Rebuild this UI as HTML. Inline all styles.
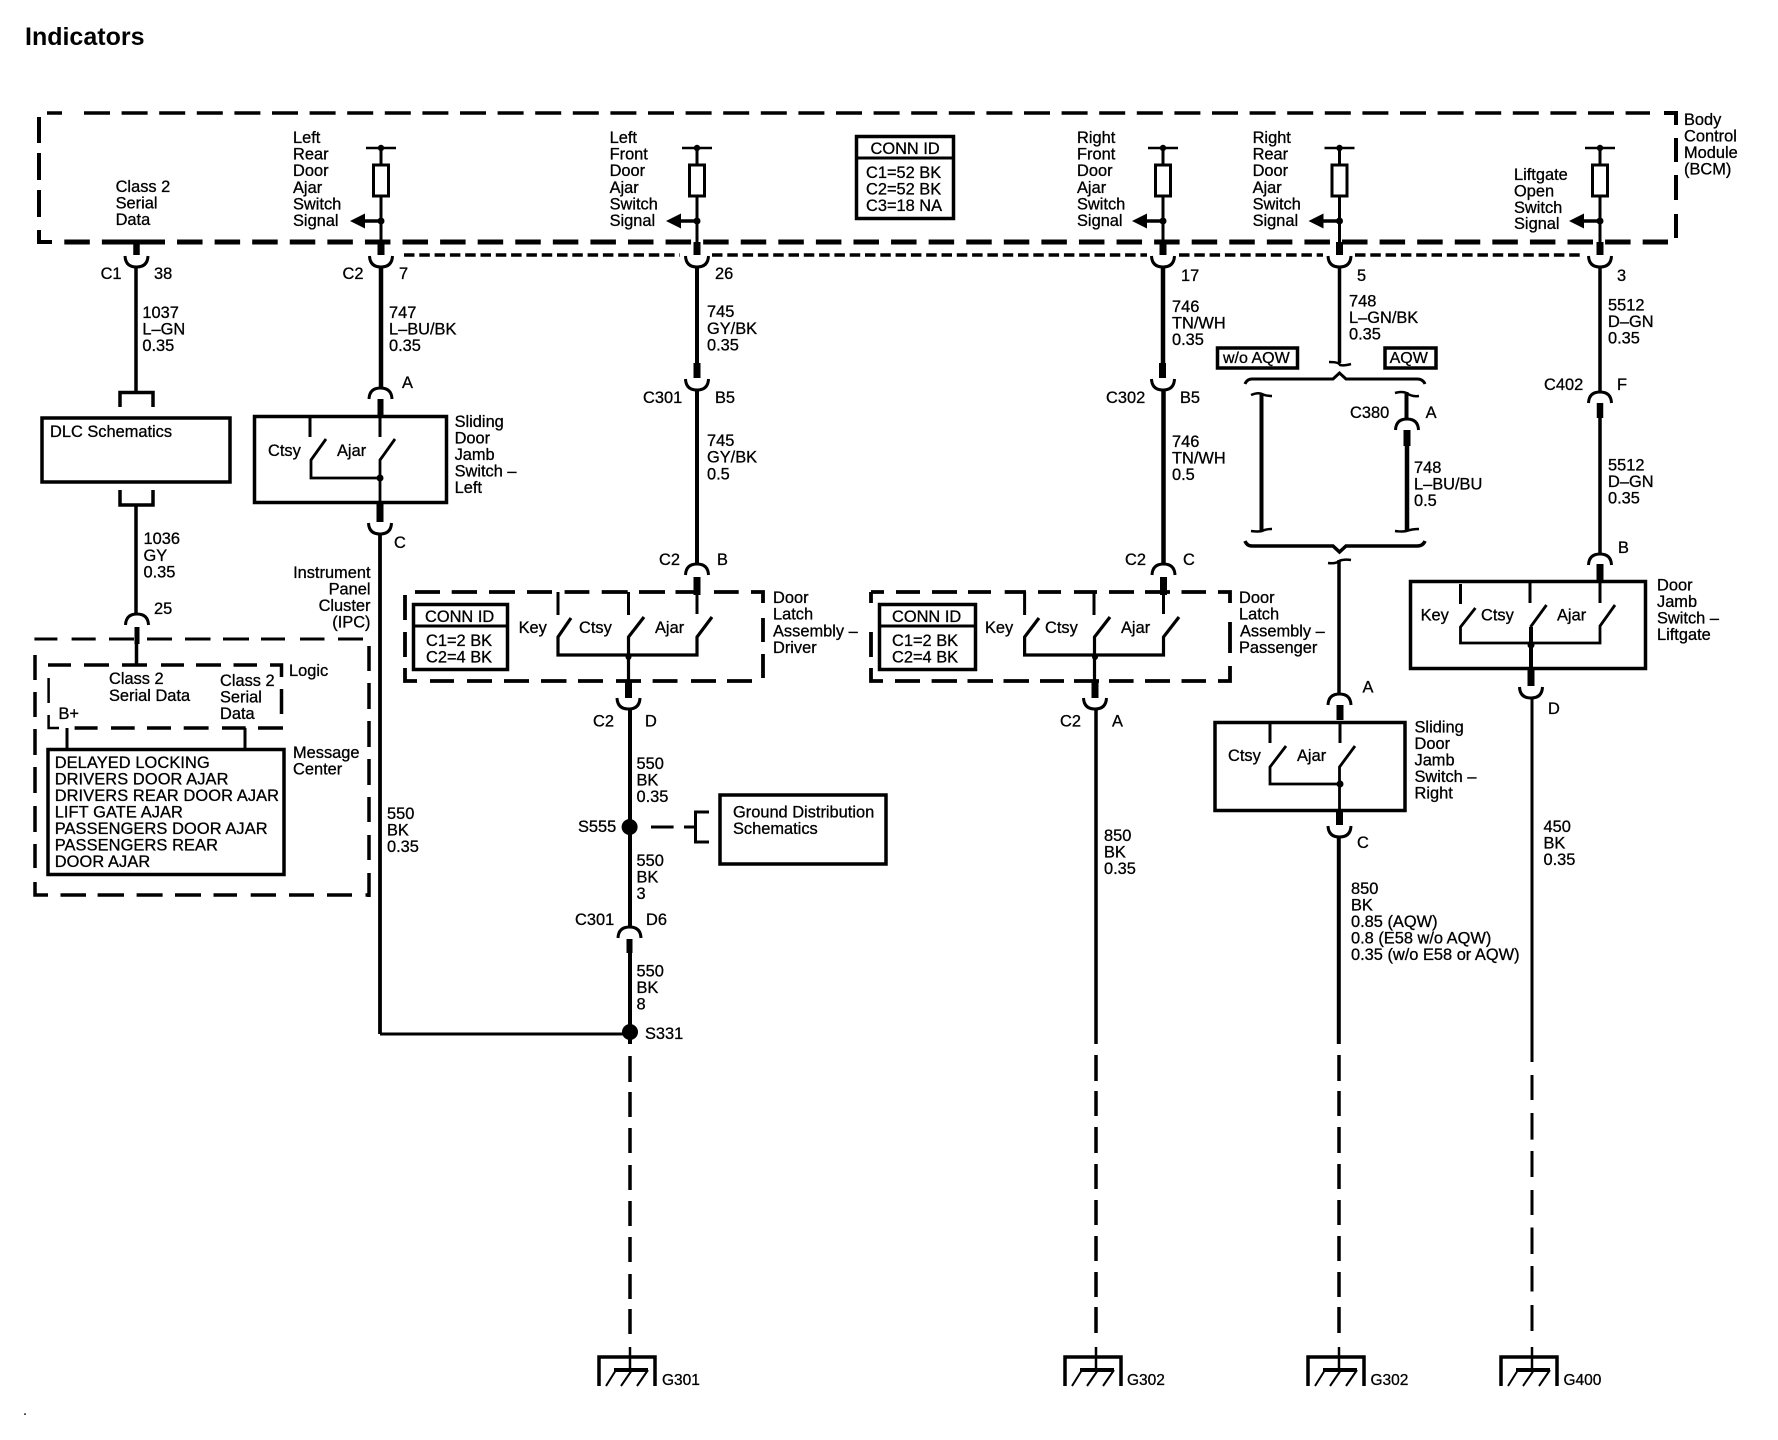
<!DOCTYPE html>
<html>
<head>
<meta charset="utf-8">
<title>Indicators</title>
<style>
html,body{margin:0;padding:0;background:#fff;width:1778px;height:1440px;overflow:hidden}
svg{display:block}
text{font-family:"Liberation Sans",Arial,sans-serif;font-size:16.4px;fill:#000;stroke:#000;stroke-width:.3}
.w,.d{fill:none;stroke:#000}
</style>
</head>
<body>
<svg width="1778" height="1440" viewBox="0 0 1778 1440" xmlns="http://www.w3.org/2000/svg">
<defs>
<path id="u" class="w" stroke-width="3" d="M-11.5 0Q-11 11 0 11Q11 11 11.5 0"/>
<path id="n" class="w" stroke-width="3" d="M-11.5 11Q-11 0 0 0Q11 0 11.5 11"/>
<g id="term">
<path class="w" stroke-width="2.500" d="M-15 0H15"/>
<circle r="3.2" cx="0" cy="0"/>
<path class="w" stroke-width="3" d="M0 0V17M0 48V94"/>
<rect x="-7.5" y="17" width="15" height="31" fill="#fff" stroke="#000" stroke-width="3"/>
<circle cx="0" cy="73" r="3.5"/>
<path class="w" stroke-width="3.5" d="M0 73H-18"/>
<polygon points="-31,73 -16,65.5 -16,80.5"/>
<path class="w" stroke-width="7" d="M0 94V107"/>
<use href="#u" y="108"/>
</g>
<g id="gnd">
<path class="w" stroke-width="3.5" d="M-31 1386V1357H25V1386"/>
<path class="w" stroke-width="2.5" d="M0 1347V1369"/>
<path class="w" stroke-width="4" d="M-16 1370H18"/>
<path class="w" stroke-width="2" d="M-14 1370L-24 1386M2 1370L-9 1386M18 1370L7 1386"/>
</g>
</defs>

<text x="25" y="45" style="font-size:25px;font-weight:bold;stroke-width:0">Indicators</text>

<!-- BCM dashed box -->
<path class="d" stroke-width="3.5" d="M47 113H62"/>
<path class="d" stroke-width="3.5" stroke-dasharray="26 11.6" d="M84 113H1650"/>
<path class="d" stroke-width="4" d="M1664 113H1676V125M1676 138V162M1676 175V200M1676 214V238"/>
<path class="d" stroke-width="4" d="M39 117V143M39 153V180M39 190V217M39 230V242H52"/>
<path class="d" stroke-width="5" stroke-dasharray="25.5 12.08" d="M64.300 242H1668"/>
<path class="d" stroke-width="5" d="M125 242H165"/>
<!-- dotted -->
<path class="d" stroke-width="3.5" stroke-dasharray="10.5 4.800" d="M404 255H680M712 255H1147M1179 255H1323M1355 255H1583"/>

<!-- terminals -->
<use href="#term" x="381" y="148"/>
<use href="#term" x="697" y="148"/>
<use href="#term" x="1163" y="148"/>
<use href="#term" x="1339.500" y="148"/>
<use href="#term" x="1600" y="148"/>

<!-- BCM conn id -->
<rect x="856.500" y="136.500" width="97" height="82" fill="none" stroke="#000" stroke-width="3.5"/>
<path class="w" stroke-width="3" d="M856 158H954"/>
<text x="870.500" y="154">CONN ID</text>
<text x="866" y="178">C1=52 BK</text>
<text x="866" y="194.500">C2=52 BK</text>
<text x="866" y="211">C3=18 NA</text>

<!-- BCM labels -->
<text x="115.600" y="192"><tspan x="115.600">Class 2</tspan><tspan x="115.600" dy="16.500">Serial</tspan><tspan x="115.600" dy="16.500">Data</tspan></text>
<text y="143"><tspan x="293">Left</tspan><tspan x="293" dy="16.600">Rear</tspan><tspan x="293" dy="16.600">Door</tspan><tspan x="293" dy="16.600">Ajar</tspan><tspan x="293" dy="16.600">Switch</tspan><tspan x="293" dy="16.600">Signal</tspan></text>
<text y="143"><tspan x="609.600">Left</tspan><tspan x="609.600" dy="16.600">Front</tspan><tspan x="609.600" dy="16.600">Door</tspan><tspan x="609.600" dy="16.600">Ajar</tspan><tspan x="609.600" dy="16.600">Switch</tspan><tspan x="609.600" dy="16.600">Signal</tspan></text>
<text y="143"><tspan x="1077">Right</tspan><tspan x="1077" dy="16.600">Front</tspan><tspan x="1077" dy="16.600">Door</tspan><tspan x="1077" dy="16.600">Ajar</tspan><tspan x="1077" dy="16.600">Switch</tspan><tspan x="1077" dy="16.600">Signal</tspan></text>
<text y="143"><tspan x="1252.600">Right</tspan><tspan x="1252.600" dy="16.600">Rear</tspan><tspan x="1252.600" dy="16.600">Door</tspan><tspan x="1252.600" dy="16.600">Ajar</tspan><tspan x="1252.600" dy="16.600">Switch</tspan><tspan x="1252.600" dy="16.600">Signal</tspan></text>
<text y="180"><tspan x="1514">Liftgate</tspan><tspan x="1514" dy="16.400">Open</tspan><tspan x="1514" dy="16.400">Switch</tspan><tspan x="1514" dy="16.400">Signal</tspan></text>
<text y="125"><tspan x="1684">Body</tspan><tspan x="1684" dy="16.500">Control</tspan><tspan x="1684" dy="16.500">Module</tspan><tspan x="1684" dy="16.500">(BCM)</tspan></text>

<!-- Wire 1 -->
<path class="w" stroke-width="6.500" d="M136.500 242V255"/>
<use href="#u" x="136.500" y="256"/>
<path class="w" stroke-width="3.500" d="M136 267V391"/>
<path class="w" stroke-width="3.500" d="M120 407V392.500H153V407"/>
<text x="100.600" y="279">C1</text><text x="154" y="279">38</text>
<text y="318"><tspan x="142.400">1037</tspan><tspan x="142.400" dy="16.500">L–GN</tspan><tspan x="142.400" dy="16.500">0.35</tspan></text>
<rect x="42" y="418" width="188" height="64" fill="none" stroke="#000" stroke-width="3.500"/>
<text x="50" y="437">DLC Schematics</text>
<path class="w" stroke-width="3.500" d="M120 490V505H153V490"/>
<path class="w" stroke-width="3.500" d="M136 505V613"/>
<text y="544"><tspan x="143.500">1036</tspan><tspan x="143.500" dy="16.800">GY</tspan><tspan x="143.500" dy="16.800">0.35</tspan></text>
<text x="154" y="614">25</text>
<use href="#n" x="137" y="614"/>
<path class="w" stroke-width="5" d="M137 627V644"/>
<path class="w" stroke-width="3.500" d="M136.500 644V665"/>

<!-- IPC -->
<path class="d" stroke-width="3" d="M34.400 639H57.400M71.600 639H95.700M109 639H134M147 639H172M185 639H210.500M223 639H249M261 639H285M300 639H324.500M338 639H363"/>
<path class="d" stroke-width="3.500" d="M369 646V671M369 683V709M369 721V747M369 759V785M369 797V822M369 835V860M369 873V897"/>
<path class="d" stroke-width="3.500" d="M35 882V895H48M60.500 895H86M97.600 895H124M136.600 895H162.600M175 895H201M213.500 895H237M250.700 895H276M289 895H314M327 895H352M365.500 895H370"/>
<path class="d" stroke-width="3.500" d="M35 655V680M35 692V717M35 729V755M35 767V793M35 806V832M35 844V868"/>
<path class="d" stroke-width="3.500" d="M48 665H71M84 665H109M122 665H147M161 665H184M196 665H221M233.500 665H257M270 665H281.500V677M281.500 689V714"/>
<path class="d" stroke-width="2.500" d="M48.600 678V703M48.600 715V728H59"/>
<path class="d" stroke-width="3.500" d="M74.600 728H97.600M111 728H134.700M147 728H171M183.700 728H208.600M222 728H245.700M258 728H283"/>
<path class="w" stroke-width="3" d="M67 728V748M245 728V748"/>
<rect x="48" y="749.500" width="236" height="125" fill="none" stroke="#000" stroke-width="3.500"/>
<text x="109" y="684">Class 2</text><text x="109" y="701">Serial Data</text>
<text y="686"><tspan x="220">Class 2</tspan><tspan x="220" dy="16.500">Serial</tspan><tspan x="220" dy="16.500">Data</tspan></text>
<text x="289" y="676">Logic</text>
<text x="58.500" y="719">B+</text>
<text y="758"><tspan x="293">Message</tspan><tspan x="293" dy="16.500">Center</tspan></text>
<text y="768" style="letter-spacing:.1px"><tspan x="54.700">DELAYED LOCKING</tspan><tspan x="54.700" dy="16.500">DRIVERS DOOR AJAR</tspan><tspan x="54.700" dy="16.500">DRIVERS REAR DOOR AJAR</tspan><tspan x="54.700" dy="16.500">LIFT GATE AJAR</tspan><tspan x="54.700" dy="16.500">PASSENGERS DOOR AJAR</tspan><tspan x="54.700" dy="16.500">PASSENGERS REAR</tspan><tspan x="54.700" dy="16.500">DOOR AJAR</tspan></text>
<text y="578" text-anchor="end"><tspan x="370.500">Instrument</tspan><tspan x="370.500" dy="16.500">Panel</tspan><tspan x="370.500" dy="16.500">Cluster</tspan><tspan x="370.500" dy="16.500">(IPC)</tspan></text>

<!-- Wire 2 -->
<path class="w" stroke-width="4.500" d="M381 267V388"/>
<text x="342.500" y="279">C2</text><text x="399" y="279">7</text>
<text y="318"><tspan x="389">747</tspan><tspan x="389" dy="16.500">L–BU/BK</tspan><tspan x="389" dy="16.500">0.35</tspan></text>
<text x="402" y="388">A</text>
<use href="#n" x="380.500" y="388"/>
<path class="w" stroke-width="6" d="M380.500 399V416"/>
<rect x="254.500" y="416.500" width="192" height="86" fill="none" stroke="#000" stroke-width="3.500"/>
<path class="w" stroke-width="3" d="M310 416V437M380 416V437"/>
<path class="w" stroke-width="2.800" d="M326 439L311 460V478H380M395 439L380 460V504"/>
<circle cx="380" cy="478" r="3.500"/>
<text x="268" y="456">Ctsy</text><text x="337" y="456">Ajar</text>
<text y="427"><tspan x="454.600">Sliding</tspan><tspan x="454.600" dy="16.500">Door</tspan><tspan x="454.600" dy="16.500">Jamb</tspan><tspan x="454.600" dy="16.500">Switch –</tspan><tspan x="454.600" dy="16.500">Left</tspan></text>
<path class="w" stroke-width="7" d="M380 504V522"/>
<use href="#u" x="380" y="523"/>
<text x="394" y="548">C</text>
<path class="w" stroke-width="3.800" d="M380 534V1034"/>
<path class="w" stroke-width="3" d="M380 1034H630"/>
<text y="819"><tspan x="387">550</tspan><tspan x="387" dy="16.500">BK</tspan><tspan x="387" dy="16.500">0.35</tspan></text>

<!-- Wire 3 -->
<path class="w" stroke-width="4" d="M697 267V364"/>
<text x="715" y="279">26</text>
<text y="317"><tspan x="707">745</tspan><tspan x="707" dy="16.800">GY/BK</tspan><tspan x="707" dy="16.800">0.35</tspan></text>
<path class="w" stroke-width="7" d="M697 363V378"/>
<use href="#u" x="697" y="379"/>
<text x="643" y="403">C301</text><text x="715" y="403">B5</text>
<path class="w" stroke-width="4" d="M697 390V564"/>
<text y="446"><tspan x="707">745</tspan><tspan x="707" dy="16.700">GY/BK</tspan><tspan x="707" dy="16.700">0.5</tspan></text>
<text x="659" y="565">C2</text><text x="717" y="565">B</text>
<use href="#n" x="697" y="564"/>
<path class="w" stroke-width="7" d="M697 577V595"/>

<!-- Door latch driver -->
<path class="d" stroke-width="3.800" d="M415 592H440M451.700 592H477M489 592H515M527 592H552M564.600 592H589.400M601.700 592H627.700M639 592H665M675.500 592H700.400M714 592H738.700M751 592H763V603M763 618V642M763 654V678"/>
<path class="d" stroke-width="3.800" d="M405 595V620M405 632V657M405 668V681H417M430 681H454M467 681H492M504 681H529M541 681H566.500M578 681H603M616 681H641M652.600 681H677.500M691 681H716M727 681H752"/>
<rect x="413.500" y="604.500" width="94" height="65" fill="none" stroke="#000" stroke-width="3.500"/>
<path class="w" stroke-width="3" d="M412 626H509"/>
<text x="425" y="622">CONN ID</text><text x="426" y="646">C1=2 BK</text><text x="426" y="662.500">C2=4 BK</text>
<path class="w" stroke-width="3" d="M558 592V615M628.500 592V615M697 592V614"/>
<path class="w" stroke-width="3.200" d="M571 618L558 637V655H697V637L712 617M644 617L628.500 637V682"/>
<circle cx="628.500" cy="657" r="3"/>
<text x="518.600" y="633">Key</text><text x="579" y="633">Ctsy</text><text x="655" y="633">Ajar</text>
<text y="603"><tspan x="773">Door</tspan><tspan x="773" dy="16.700">Latch</tspan><tspan x="773" dy="16.700">Assembly –</tspan><tspan x="773" dy="16.700">Driver</tspan></text>
<path class="w" stroke-width="7" d="M628.500 682V698"/>
<use href="#u" x="628.500" y="698"/>
<text x="593" y="726.700">C2</text><text x="645" y="726.700">D</text>
<path class="w" stroke-width="4" d="M630 709V927"/>
<text y="769"><tspan x="636.500">550</tspan><tspan x="636.500" dy="16.500">BK</tspan><tspan x="636.500" dy="16.500">0.35</tspan></text>
<circle cx="629.600" cy="827" r="8"/>
<text x="578" y="832">S555</text>
<path class="w" stroke-width="3" d="M651 827H673.600M684 827H695"/>
<path class="w" stroke-width="3" d="M709 812H695.500V842H709"/>
<rect x="720" y="795" width="166" height="69" fill="none" stroke="#000" stroke-width="3.500"/>
<text y="817.700"><tspan x="733">Ground Distribution</tspan><tspan x="733" dy="16.500">Schematics</tspan></text>
<text y="866"><tspan x="636.500">550</tspan><tspan x="636.500" dy="16.500">BK</tspan><tspan x="636.500" dy="16.500">3</tspan></text>
<text x="575" y="925">C301</text><text x="646" y="925">D6</text>
<use href="#n" x="629.500" y="927"/>
<path class="w" stroke-width="6" d="M629.500 939V953"/>
<path class="w" stroke-width="4" d="M630 953V1044"/>
<text y="976.700"><tspan x="636.500">550</tspan><tspan x="636.500" dy="16.500">BK</tspan><tspan x="636.500" dy="16.500">8</tspan></text>
<circle cx="630" cy="1032" r="8"/>
<text x="645" y="1039">S331</text>
<path class="w" stroke-width="3.500" d="M630 1056V1082M630 1092V1117M630 1128V1153M630 1165V1190M630 1201V1226M630 1237V1262M630 1274V1299M630 1309V1334"/>

<!-- Wire 4 -->
<path class="w" stroke-width="4.500" d="M1163 267V364"/>
<text x="1181" y="281">17</text>
<text y="312"><tspan x="1172">746</tspan><tspan x="1172" dy="16.500">TN/WH</tspan><tspan x="1172" dy="16.500">0.35</tspan></text>
<path class="w" stroke-width="7" d="M1162.500 363V378"/>
<use href="#u" x="1163" y="379"/>
<text x="1106" y="403">C302</text><text x="1180" y="403">B5</text>
<path class="w" stroke-width="4.500" d="M1163.500 390V564"/>
<text y="447"><tspan x="1172">746</tspan><tspan x="1172" dy="16.500">TN/WH</tspan><tspan x="1172" dy="16.500">0.5</tspan></text>
<text x="1125" y="565">C2</text><text x="1183" y="565">C</text>
<use href="#n" x="1163.500" y="564"/>
<path class="w" stroke-width="7" d="M1163.500 577V595"/>

<!-- Door latch passenger -->
<path class="d" stroke-width="3.800" d="M871 592H884M896 592H920M932 592H957M968 592H991M1004.700 592H1026M1038 592H1061M1074 592H1097M1109 592H1134M1145 592H1170M1181.500 592H1206M1218 592H1230V603M1230 622V653M1230 666V681H1218M1206 681H1181.500M1170 681H1145M1133.600 681H1109M1099 681H1074M1064 681H1040M1029 681H1003.500M993 681H967.500M957 681H931.600M920 681H895M883 681H871V668M871 657V632M871 603V592"/>
<rect x="879.500" y="604.500" width="96" height="65" fill="none" stroke="#000" stroke-width="3.500"/>
<path class="w" stroke-width="3" d="M878 626H977"/>
<text x="892" y="622">CONN ID</text><text x="892" y="646">C1=2 BK</text><text x="892" y="662.500">C2=4 BK</text>
<path class="w" stroke-width="3" d="M1024.600 592V615M1094 592V615M1163.500 592V614"/>
<path class="w" stroke-width="3.200" d="M1039 618L1024.600 637V655H1163.500V637L1179 617M1110 617L1094.500 637V682"/>
<circle cx="1095" cy="657" r="3"/>
<text x="985" y="633">Key</text><text x="1045" y="633">Ctsy</text><text x="1121" y="633">Ajar</text>
<text y="603"><tspan x="1239">Door</tspan><tspan x="1239" dy="16.700">Latch</tspan><tspan x="1240" dy="16.700">Assembly –</tspan><tspan x="1239" dy="16.700">Passenger</tspan></text>
<path class="w" stroke-width="7" d="M1095 682V698"/>
<use href="#u" x="1095" y="698"/>
<text x="1060" y="726.700">C2</text><text x="1112" y="726.700">A</text>
<path class="w" stroke-width="3.500" d="M1096 709V1044"/>
<text y="841"><tspan x="1104">850</tspan><tspan x="1104" dy="16.500">BK</tspan><tspan x="1104" dy="16.500">0.35</tspan></text>
<path class="w" stroke-width="3.500" d="M1096 1055V1081M1096 1091V1116M1096 1127V1153M1096 1164V1189M1096 1200V1225M1096 1236V1261M1096 1272V1297M1096 1307V1333"/>

<!-- Wire 5 -->
<path class="w" stroke-width="3.500" d="M1339.500 267V363"/>
<path class="w" stroke-width="2.500" d="M1329 362Q1339 362 1340 365Q1344 366 1351 364"/>
<text x="1357" y="281">5</text>
<text y="306.700"><tspan x="1349">748</tspan><tspan x="1349" dy="16.500">L–GN/BK</tspan><tspan x="1349" dy="16.500">0.35</tspan></text>
<rect x="1217.500" y="348" width="80" height="20" fill="none" stroke="#000" stroke-width="3.500"/>
<text x="1223" y="363" style="font-size:16px">w/o AQW</text>
<rect x="1385" y="348" width="51" height="20" fill="none" stroke="#000" stroke-width="3.500"/>
<text x="1389.600" y="363" style="font-size:16px">AQW</text>
<path class="w" stroke-width="3" d="M1245 384Q1247 379 1252 379H1333L1339.500 373L1346 379H1417Q1423 379 1425 384"/>
<path class="w" stroke-width="4" d="M1261.500 394V531"/>
<path class="w" stroke-width="2.500" d="M1251 395Q1258 392 1262 394Q1266 396 1272 396M1251 531Q1258 532 1262 531Q1266 529 1272 529"/>
<path class="w" stroke-width="2.500" d="M1395 393Q1402 391 1406.500 393Q1412 397 1419 396M1395 531Q1402 532 1406.500 531Q1412 529 1419 529"/>
<path class="w" stroke-width="4" d="M1406.500 392V419"/>
<use href="#n" x="1407" y="419"/>
<text x="1350" y="418">C380</text><text x="1425.600" y="418">A</text>
<path class="w" stroke-width="7" d="M1407 430V446"/>
<path class="w" stroke-width="4.500" d="M1407 445V531"/>
<text y="473"><tspan x="1414">748</tspan><tspan x="1414" dy="16.500">L–BU/BU</tspan><tspan x="1414" dy="16.500">0.5</tspan></text>
<path class="w" stroke-width="3.500" d="M1245 541Q1247 546 1252 546H1333L1339.500 552L1346 546H1417Q1423 546 1425 541"/>
<path class="w" stroke-width="2.500" d="M1328 563Q1336 564 1339 561Q1344 559 1351 560"/>
<path class="w" stroke-width="3.500" d="M1339 560V694"/>
<use href="#n" x="1339.500" y="694"/>
<text x="1362.500" y="692.700">A</text>
<path class="w" stroke-width="7" d="M1340 705V720"/>
<rect x="1215" y="722.500" width="190" height="88" fill="none" stroke="#000" stroke-width="3.500"/>
<path class="w" stroke-width="3" d="M1270 722V743M1340 722V743"/>
<path class="w" stroke-width="2.800" d="M1286 746L1270 767V784H1339.500M1355 746L1339.500 767V812"/>
<circle cx="1340" cy="784" r="3.500"/>
<text x="1228" y="761">Ctsy</text><text x="1297" y="761">Ajar</text>
<text y="732.700"><tspan x="1414.500">Sliding</tspan><tspan x="1414.500" dy="16.500">Door</tspan><tspan x="1414.500" dy="16.500">Jamb</tspan><tspan x="1414.500" dy="16.500">Switch –</tspan><tspan x="1414.500" dy="16.500">Right</tspan></text>
<path class="w" stroke-width="7" d="M1339.500 812V825"/>
<use href="#u" x="1339.500" y="826"/>
<text x="1357" y="848">C</text>
<path class="w" stroke-width="4" d="M1338.800 836V1044"/>
<text y="894"><tspan x="1351">850</tspan><tspan x="1351" dy="16.500">BK</tspan><tspan x="1351" dy="16.500">0.85 (AQW)</tspan><tspan x="1351" dy="16.500">0.8 (E58 w/o AQW)</tspan><tspan x="1351" dy="16.500">0.35 (w/o E58 or AQW)</tspan></text>
<path class="w" stroke-width="3.500" d="M1339 1055V1081M1339 1091V1116M1339 1127V1153M1339 1164V1189M1339 1200V1225M1339 1236V1261M1339 1272V1297M1339 1307V1333"/>

<!-- Wire 6 -->
<path class="w" stroke-width="3.500" d="M1600 267V392"/>
<text x="1617" y="281">3</text>
<text y="310.700"><tspan x="1608">5512</tspan><tspan x="1608" dy="16.500">D–GN</tspan><tspan x="1608" dy="16.500">0.35</tspan></text>
<text x="1544" y="390">C402</text><text x="1617" y="390">F</text>
<use href="#n" x="1600" y="392"/>
<path class="w" stroke-width="6.500" d="M1600 403V418"/>
<path class="w" stroke-width="3.500" d="M1600 418V554"/>
<text y="470.700"><tspan x="1608">5512</tspan><tspan x="1608" dy="16.500">D–GN</tspan><tspan x="1608" dy="16.500">0.35</tspan></text>
<text x="1618" y="553">B</text>
<use href="#n" x="1600" y="554"/>
<path class="w" stroke-width="7" d="M1600 564V580"/>
<rect x="1410.500" y="581.500" width="235" height="87" fill="none" stroke="#000" stroke-width="3.500"/>
<path class="w" stroke-width="3" d="M1460.500 584V604M1530 580V603M1600 580V603"/>
<path class="w" stroke-width="2.800" d="M1475.400 608L1460.500 627V643H1600V626L1615 605M1546.500 605L1530.500 627"/>
<path class="w" stroke-width="4" d="M1531 627V669"/>
<circle cx="1531" cy="645" r="3.500"/>
<text x="1420.600" y="620.700">Key</text><text x="1481" y="620.700">Ctsy</text><text x="1557" y="620.700">Ajar</text>
<text y="590.700"><tspan x="1657">Door</tspan><tspan x="1657" dy="16.500">Jamb</tspan><tspan x="1657" dy="16.500">Switch –</tspan><tspan x="1657" dy="16.500">Liftgate</tspan></text>
<path class="w" stroke-width="7" d="M1531 669V686"/>
<use href="#u" x="1531" y="687"/>
<text x="1548" y="714">D</text>
<path class="w" stroke-width="3" d="M1532 698V1062"/>
<text y="832"><tspan x="1543.500">450</tspan><tspan x="1543.500" dy="16.500">BK</tspan><tspan x="1543.500" dy="16.500">0.35</tspan></text>
<path class="w" stroke-width="3" d="M1532 1075V1100M1532 1113V1139.600M1532 1151V1177M1532 1190V1215M1532 1227.500V1254M1532 1266V1291.500M1532 1305V1331"/>

<!-- Grounds -->
<use href="#gnd" x="630"/>
<use href="#gnd" x="1096"/>
<use href="#gnd" x="1339"/>
<use href="#gnd" x="1532"/>
<text x="662" y="1385" style="font-size:15.500px">G301</text>
<text x="1127" y="1385" style="font-size:15.500px">G302</text>
<text x="1370.500" y="1385" style="font-size:15.500px">G302</text>
<text x="1563.500" y="1385" style="font-size:15.500px">G400</text>

<rect x="24" y="1413.500" width="2" height="1.200" fill="#000"/>
</svg>
</body>
</html>
